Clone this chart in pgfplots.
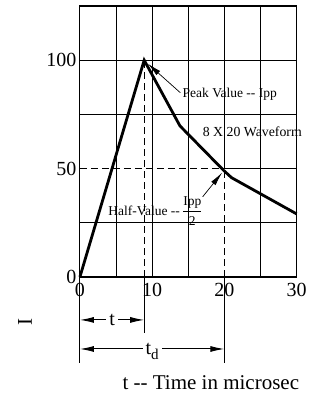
\documentclass[border=0pt]{standalone}
\usepackage{fontspec}
\setmainfont{Liberation Serif}
\usepackage{amsmath}
\usepackage{pgfplots}
\pgfplotsset{compat=1.18}
\usetikzlibrary{arrows.meta}

\begin{document}
\begin{tikzpicture}
\begin{axis}[
    width=216.7pt, height=271pt,
    scale only axis,
    xmin=0, xmax=30, ymin=0, ymax=125,
    clip=false,
    axis line style={line width=1.2pt},
    xtick={0,10,20,30},
    ytick={0,50,100},
    minor xtick={5,10,15,25},
    minor ytick={25,75,100},
    major tick length=0pt, minor tick length=0pt,
    xminorgrids, yminorgrids,
    minor grid style={black, line width=0.9pt},
    /pgf/number format/assume math mode=true,
    tick label style={font=\fontsize{20}{24}\selectfont},
    xticklabel style={yshift=-3pt},
    ylabel={I},
    ylabel style={at={(axis description cs:-0.253,-0.166)}, anchor=center,
                  font=\fontsize{21}{24}\selectfont},
    xlabel={t -{}- Time in microsec},
    xlabel style={at={(axis description cs:0.604,-0.391)}, anchor=center,
                  font=\fontsize{21}{24}\selectfont},
]
% invisible frame that fixes the picture's proportions
\path (axis description cs:-0.3687,-0.4391) rectangle (axis description cs:1.1152,1.0221);

% grid pieces around the half-value point
\draw[line width=0.9pt] (axis cs:20,50) -- (axis cs:30,50);
\draw[line width=0.9pt] (axis cs:20,50) -- (axis cs:20,125);
\draw[line width=0.9pt, dash pattern=on 7pt off 4pt] (axis cs:0,50) -- (axis cs:20,50);
\draw[line width=0.9pt, dash pattern=on 7pt off 4pt] (axis cs:20,0) -- (axis cs:20,50);
\draw[line width=0.9pt, dash pattern=on 7pt off 4pt] (axis cs:8.9,0) -- (axis cs:8.9,100);

% extension lines below the axis
\draw[line width=1pt] (axis cs:0,0) -- (axis cs:0,-39.7);
\draw[line width=1pt] (axis cs:8.9,0) -- (axis cs:8.9,-25.8);
\draw[line width=1pt] (axis cs:20,0) -- (axis cs:20,-39.7);

% dimension arrows
\draw[line width=1pt, {Latex[length=14pt,width=6pt]}-{Latex[length=14pt,width=6pt]}]
    (axis cs:0,-19.8) -- (axis cs:8.9,-19.8)
    node[midway, fill=white, inner sep=3pt, font=\fontsize{20}{24}\selectfont] {t};
\draw[line width=1pt, {Latex[length=14pt,width=6pt]}-{Latex[length=14pt,width=6pt]}]
    (axis cs:0,-33.2) -- (axis cs:20,-33.2)
    node[midway, fill=white, inner sep=3pt, yshift=-2pt, font=\fontsize{20}{24}\selectfont]
    {t\raisebox{-5pt}{\fontsize{15}{15}\selectfont d}};

% waveform
\addplot[black, line width=2.8pt, line join=miter] coordinates {
    (0,0) (8.9,100) (13.85,69.7) (19.95,49) (21,45.8) (30,29.1)
};

% annotations
\draw[line width=0.7pt, -{Latex[length=14pt,width=5.5pt]}] (axis cs:13.9,85) -- (axis cs:9.4,98.4);
\node[anchor=west, font=\fontsize{13.5}{16}\selectfont, inner sep=0pt]
    at (axis cs:14.2,84.5) {Peak Value -{}- Ipp};
\node[anchor=west, font=\fontsize{13.8}{16}\selectfont, inner sep=0pt]
    at (axis cs:17.0,67) {8 X 20 Waveform};
\draw[line width=0.7pt, -{Latex[length=14pt,width=5.5pt]}] (axis cs:17.0,37) -- (axis cs:19.7,48.2);
\node[anchor=west, font=\fontsize{13.5}{16}\selectfont, inner sep=0pt]
    at (axis cs:3.9,30.5) {Half-Value -{}-\,$\dfrac{\text{Ipp}}{\text{2}}$};
\end{axis}
\end{tikzpicture}
\end{document}
